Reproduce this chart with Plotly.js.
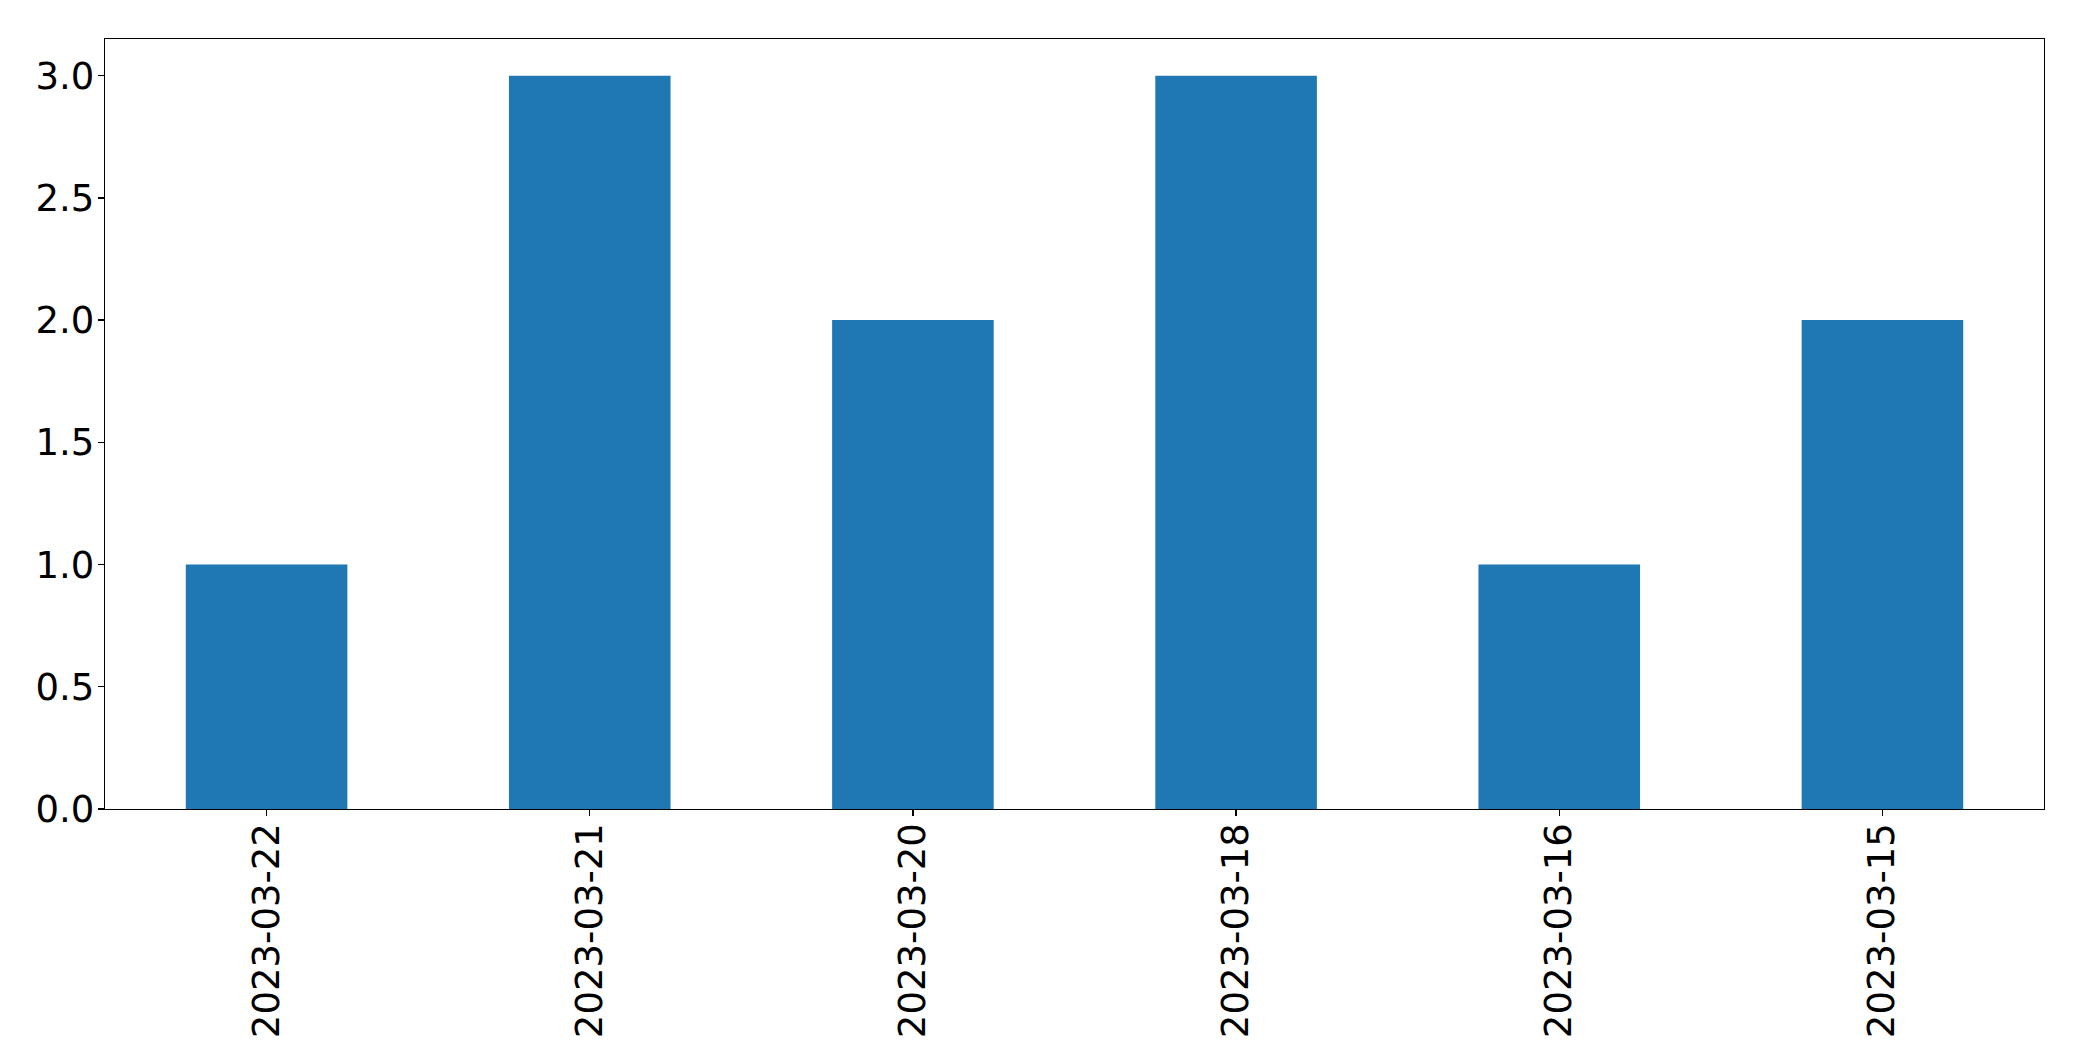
<!DOCTYPE html>
<html>
<head>
<meta charset="utf-8">
<script src="https://cdn.plot.ly/plotly-3.0.1.min.js"></script>
<style>html,body{margin:0;padding:0;background:#fff;}#chart{width:2082px;height:1061px;}</style>
</head>
<body>
<div id="chart"></div>
<script>
const categories = ["2023-03-22", "2023-03-21", "2023-03-20", "2023-03-18", "2023-03-16", "2023-03-15"];
const counts = [1, 3, 2, 3, 1, 2];
const yTickVals = [0, 0.5, 1, 1.5, 2, 2.5, 3];
const yTickText = ["0.0", "0.5", "1.0", "1.5", "2.0", "2.5", "3.0"];

const trace = {
  type: "bar",
  x: categories,
  y: counts,
  width: 0.5,
  marker: {color: "#1f77b4", line: {width: 0}},
  hoverinfo: "x+y"
};

const font = {family: "DejaVu Sans, sans-serif", size: 37, color: "#000"};

const layout = {
  width: 2082,
  height: 1061,
  margin: {l: 105, r: 38, t: 39, b: 252, pad: 0},
  paper_bgcolor: "#fff",
  plot_bgcolor: "#fff",
  showlegend: false,
  font: font,
  xaxis: {
    type: "category",
    range: [-0.5, 5.5],
    showline: true, mirror: true, linecolor: "#000", linewidth: 1.3,
    showgrid: false, zeroline: false,
    ticks: "outside", ticklen: 6, tickwidth: 1.3, tickcolor: "#000",
    tickangle: -90,
    ticklabelstandoff: -8,
    tickfont: font
  },
  yaxis: {
    range: [0, 3.15],
    showline: true, mirror: true, linecolor: "#000", linewidth: 1.3,
    showgrid: false, zeroline: false,
    ticks: "outside", ticklen: 6, tickwidth: 1.3, tickcolor: "#000",
    tickmode: "array", tickvals: yTickVals, ticktext: yTickText,
    ticklabelstandoff: -4,
    tickfont: font
  }
};

Plotly.newPlot("chart", [trace], layout, {displayModeBar: false, staticPlot: true});
</script>
</body>
</html>
